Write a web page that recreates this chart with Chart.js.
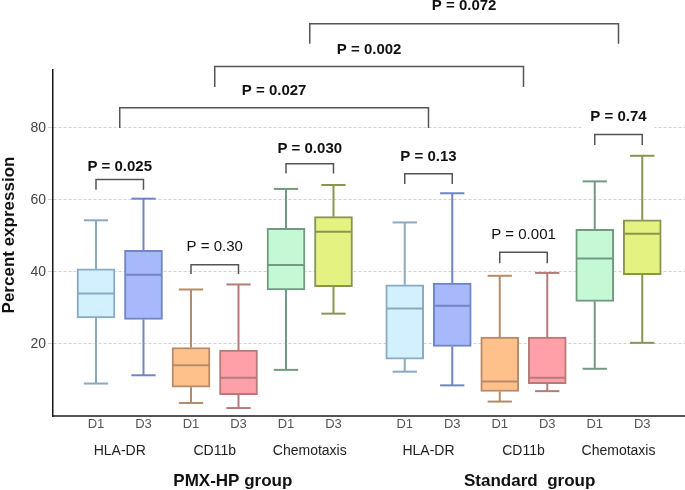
<!DOCTYPE html>
<html>
<head>
<meta charset="utf-8">
<script src="https://cdn.jsdelivr.net/npm/chart.js@4.4.1/dist/chart.umd.min.js"></script>
<style>
  html, body { margin: 0; padding: 0; background: #fff; }
</style>
</head>
<body>
<canvas id="chart" width="685" height="490"></canvas>
<script>
// data
var days = ['D1', 'D3', 'D1', 'D3', 'D1', 'D3', 'D1', 'D3', 'D1', 'D3', 'D1', 'D3'];
var markers = ['HLA-DR', 'CD11b', 'Chemotaxis'];
var groups = ['PMX-HP group', 'Standard  group'];
var xPos = [0, 1, 2, 3, 4, 5, 6.5, 7.5, 8.5, 9.5, 10.5, 11.5];
var whiskerLow  = [9.0, 11.3, 3.6, 2.2, 12.8, 28.4, 12.3, 8.5, 4.0, 6.9, 13.1, 20.3];
var q1          = [27.2, 26.8, 8.0, 5.9, 35.0, 35.9, 15.8, 19.3, 6.8, 9.0, 31.8, 39.2];
var median      = [34.0, 39.2, 14.1, 10.6, 41.9, 51.1, 29.8, 30.6, 9.6, 10.6, 43.7, 50.6];
var q3          = [40.8, 46.0, 19.0, 18.3, 52.1, 55.3, 36.4, 36.9, 21.9, 21.9, 51.8, 54.4];
var whiskerHigh = [54.3, 60.3, 35.1, 36.5, 63.0, 64.1, 53.7, 61.8, 38.9, 39.7, 65.1, 72.2];
var pairP = ['P = 0.025', 'P = 0.30', 'P = 0.030', 'P = 0.13', 'P = 0.001', 'P = 0.74'];
var betweenP = ['P = 0.027', 'P = 0.002', 'P = 0.072'];
var yTicks = [20, 40, 60, 80];

// styles
var fills = ['#d2f0fd', '#a8b9fb', '#ffc18b', '#ffa0a8', '#c5f9d6', '#e3f280'];
var edges = ['#8aa9c2', '#6f85c5', '#b98a68', '#b47b78', '#739a80', '#8b9552'];
var pairBold = [true, false, true, true, false, true];
// bracket levels: [top, leg end, label]
var pairLevels = [[65.6, 62.8, 69], [42.0, 39.4, 46.9], [70.0, 67.3, 74.1],
                  [67.2, 64.4, 71.9], [45.4, 42.4, 50.3], [78.1, 75.2, 83]];
var betweenLevels = [[85.5, 79.9, 90.1], [97.0, 91.3, 101.5], [108.8, 103.3, 113.9]];
var FONT = '"Liberation Sans", Arial, Helvetica, sans-serif';

var boxFill = xPos.map(function(x, i) { return fills[i % 6]; });
var boxEdge = xPos.map(function(x, i) { return edges[i % 6]; });

function line(ctx, x1, y1, x2, y2) {
    ctx.beginPath();
    ctx.moveTo(x1, y1);
    ctx.lineTo(x2, y2);
    ctx.stroke();
}

var boxPlugin = {
    id: 'boxExtras',
    beforeDatasetsDraw: function(chart) {
        var ctx = chart.ctx, ys = chart.scales.y;
        var bars = chart.getDatasetMeta(0).data;
        ctx.save();
        ctx.lineWidth = 2;
        bars.forEach(function(bar, i) {
            var cap = bar.width * 0.32;
            ctx.strokeStyle = boxEdge[i];
            var yHi = ys.getPixelForValue(whiskerHigh[i]);
            var yLo = ys.getPixelForValue(whiskerLow[i]);
            line(ctx, bar.x, yHi, bar.x, ys.getPixelForValue(q3[i]));
            line(ctx, bar.x, yLo, bar.x, ys.getPixelForValue(q1[i]));
            line(ctx, bar.x - cap, yHi, bar.x + cap, yHi);
            line(ctx, bar.x - cap, yLo, bar.x + cap, yLo);
        });
        ctx.restore();
    },
    afterDatasetsDraw: function(chart) {
        var ctx = chart.ctx, ys = chart.scales.y;
        var bars = chart.getDatasetMeta(0).data;
        ctx.save();
        ctx.lineWidth = 2;
        bars.forEach(function(bar, i) {
            var ym = ys.getPixelForValue(median[i]);
            ctx.strokeStyle = boxEdge[i];
            line(ctx, bar.x - bar.width / 2 + 1, ym, bar.x + bar.width / 2 - 1, ym);
        });
        ctx.restore();
    },
    afterDraw: function(chart) {
        var ctx = chart.ctx, xs = chart.scales.x, ys = chart.scales.y, area = chart.chartArea;
        ctx.save();

        // x axis line
        ctx.strokeStyle = '#1a1a1a';
        ctx.lineWidth = 1.5;
        line(ctx, area.left, area.bottom, area.right, area.bottom);

        // category labels
        ctx.textAlign = 'center';
        ctx.textBaseline = 'middle';
        ctx.fillStyle = '#555';
        ctx.font = '13px ' + FONT;
        xPos.forEach(function(x, i) {
            ctx.fillText(days[i], xs.getPixelForValue(x), area.bottom + 8.5);
        });
        ctx.fillStyle = '#222';
        ctx.font = '14px ' + FONT;
        for (var k = 0; k < 6; k++) {
            var mid = (xs.getPixelForValue(xPos[2 * k]) + xs.getPixelForValue(xPos[2 * k + 1])) / 2;
            ctx.fillText(markers[k % 3], mid, area.bottom + 35);
        }
        ctx.fillStyle = '#111';
        ctx.font = 'bold 17px ' + FONT;
        ctx.fillText(groups[0], xs.getPixelForValue(2.88), area.bottom + 65);
        ctx.fillText(groups[1], xs.getPixelForValue(9.13), area.bottom + 65);

        // y axis title
        ctx.save();
        ctx.translate(9, 235);
        ctx.rotate(-Math.PI / 2);
        ctx.font = 'bold 17px ' + FONT;
        ctx.fillText('Percent expression', 0, 0);
        ctx.restore();

        // significance brackets
        function bracket(x1, x2, lv, label, bold) {
            var px1 = xs.getPixelForValue(x1), px2 = xs.getPixelForValue(x2);
            var yt = ys.getPixelForValue(lv[0]), yl = ys.getPixelForValue(lv[1]);
            var yText = ys.getPixelForValue(lv[2]);
            ctx.font = (bold ? 'bold ' : '') + '15px ' + FONT;
            var w = ctx.measureText(label).width;
            var cx = (px1 + px2) / 2;
            ctx.fillStyle = '#fff';
            ctx.fillRect(cx - w / 2 - 8, yText - 10, w + 16, 23);
            ctx.strokeStyle = '#555';
            ctx.lineWidth = 1.5;
            ctx.beginPath();
            ctx.moveTo(px1, yl);
            ctx.lineTo(px1, yt);
            ctx.lineTo(px2, yt);
            ctx.lineTo(px2, yl);
            ctx.stroke();
            ctx.fillStyle = '#111';
            ctx.fillText(label, cx, yText);
        }
        for (var p = 0; p < 6; p++) {
            bracket(xPos[2 * p], xPos[2 * p + 1], pairLevels[p], pairP[p], pairBold[p]);
        }
        for (var b = 0; b < 3; b++) {
            var a1 = (xPos[2 * b] + xPos[2 * b + 1]) / 2;
            var a2 = (xPos[6 + 2 * b] + xPos[6 + 2 * b + 1]) / 2;
            bracket(a1, a2, betweenLevels[b], betweenP[b], true);
        }
        ctx.restore();
    }
};

var ctx = document.getElementById('chart');

var myChart = new Chart(ctx, {
    type: 'bar',
    data: {
        datasets: [{
            data: xPos.map(function(x, i) { return { x: x, y: [q1[i], q3[i]] }; }),
            backgroundColor: boxFill,
            borderColor: boxEdge,
            borderWidth: 2,
            borderSkipped: false,
            barThickness: 38
        }]
    },
    options: {
        responsive: false,
        animation: false,
        layout: { padding: { top: 70, bottom: 74, left: 0, right: 0 } },
        plugins: {
            legend: { display: false },
            tooltip: { enabled: false }
        },
        scales: {
            x: {
                type: 'linear',
                min: -0.905,
                max: 12.4,
                offset: false,
                display: false
            },
            y: {
                min: 0,
                max: 96,
                afterBuildTicks: function(scale) {
                    scale.ticks = yTicks.map(function(v) { return { value: v }; });
                },
                afterFit: function(scale) { scale.width = 53; },
                ticks: {
                    padding: 2,
                    color: '#444',
                    font: { family: FONT, size: 14 }
                },
                grid: {
                    color: '#d2d2d2',
                    lineWidth: 1,
                    tickLength: 5
                },
                border: {
                    display: true,
                    color: '#1a1a1a',
                    width: 1.5,
                    dash: [3, 2]
                }
            }
        }
    },
    plugins: [boxPlugin]
});
</script>
</body>
</html>
